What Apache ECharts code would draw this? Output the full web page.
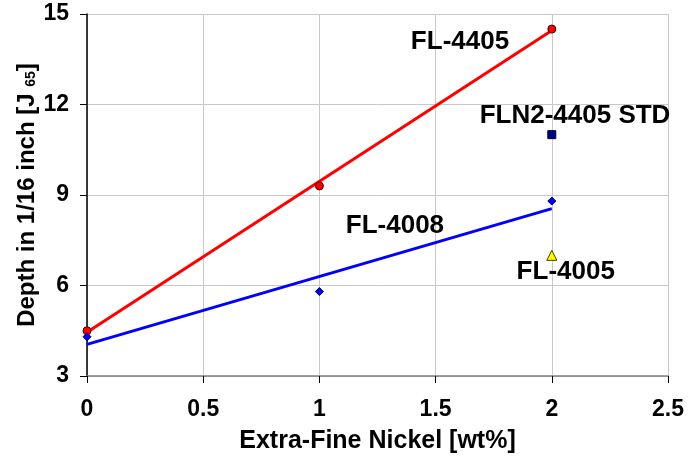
<!DOCTYPE html>
<html>
<head>
<meta charset="utf-8">
<script src="https://cdn.jsdelivr.net/npm/echarts@6/dist/echarts.min.js"></script>
<style>html,body{margin:0;padding:0;background:#fff;}#c{width:688px;height:457px;}</style>
</head>
<body>
<div id="c"></div>
<script>
var xTicks = [0, 0.5, 1, 1.5, 2, 2.5];
var yTicks = [3, 6, 9, 12, 15];
var fl4405 = [[0, 4.5], [1, 9.3], [2, 14.5]];
var fl4008 = [[0, 4.3], [1, 5.8], [2, 8.8]];
var fln2 = [[2, 11.0]];
var fl4005 = [[2, 7.0]];
var trend4405 = [[0, 4.45], [2, 14.45]];
var trend4008 = [[0, 4.05], [2, 8.55]];
var labelTexts = ['FL-4405', 'FLN2-4405 STD', 'FL-4008', 'FL-4005'];
var labelX = [1.605, 2.1, 1.325, 2.06];
var labelY = [14.07, 11.62, 7.97, 6.45];
var F = 'Arial, "Liberation Sans", sans-serif';
var chart = echarts.init(document.getElementById('c'));
chart.setOption({
  animation: false,
  backgroundColor: '#fff',
  grid: {left: 87, right: 20, top: 14, bottom: 81, outerBoundsMode: 'none', containLabel: false},
  xAxis: {
    type: 'value', min: 0, max: 2.5, interval: 0.5,
    name: 'Extra-Fine Nickel [wt%]', nameLocation: 'middle', nameGap: 53, nameMoveOverlap: false,
    nameTextStyle: {fontFamily: F, fontWeight: 'bold', fontSize: 25, color: '#000'},
    axisLine: {show: true, lineStyle: {color: '#808080', width: 1.5}},
    axisTick: {show: true, inside: false, length: 7, lineStyle: {color: '#000'}},
    axisLabel: {margin: 22, fontFamily: F, fontWeight: 'bold', fontSize: 23, color: '#000',
      formatter: function (v) { return xTicks.indexOf(v) >= 0 ? String(v) : ''; }},
    splitLine: {show: true, lineStyle: {color: '#c8c8c8', width: 1}}
  },
  yAxis: {
    type: 'value', min: 3, max: 15, interval: 3,
    name: 'Depth in 1/16 inch [J {sub|65}]', nameLocation: 'middle', nameGap: 48, nameMoveOverlap: false,
    nameTextStyle: {fontFamily: F, fontWeight: 'bold', fontSize: 24, color: '#000',
      rich: {sub: {fontFamily: F, fontWeight: 'bold', fontSize: 14, color: '#000', padding: [8, 0, 0, 0]}}},
    axisLine: {show: true, lineStyle: {color: '#000', width: 1.5}},
    axisTick: {show: true, inside: false, length: 7, lineStyle: {color: '#000'}},
    axisLabel: {margin: 18, fontFamily: F, fontWeight: 'bold', fontSize: 23, color: '#000',
      formatter: function (v) { return yTicks.indexOf(v) >= 0 ? String(v) : ''; }},
    splitLine: {show: true, lineStyle: {color: '#c8c8c8', width: 1}}
  },
  series: [
    {type: 'line', data: trend4405, symbol: 'none', lineStyle: {color: '#ff0000', width: 3}, z: 2},
    {type: 'line', data: trend4008, symbol: 'none', lineStyle: {color: '#0000ff', width: 3}, z: 2},
    {type: 'scatter', data: fl4405, symbol: 'circle', symbolSize: 8,
      itemStyle: {color: '#ff0000', borderColor: '#400000', borderWidth: 1, opacity: 1}, z: 3},
    {type: 'scatter', data: fl4008, symbol: 'diamond', symbolSize: 8,
      itemStyle: {color: '#0000ff', borderColor: '#000040', borderWidth: 1, opacity: 1}, z: 3},
    {type: 'scatter', data: fln2, symbol: 'rect', symbolSize: 8,
      itemStyle: {color: '#000080', borderColor: '#000040', borderWidth: 1, opacity: 1}, z: 3},
    {type: 'scatter', data: fl4005, symbol: 'triangle', symbolSize: 10,
      itemStyle: {color: '#ffff00', borderColor: '#404000', borderWidth: 1, opacity: 1}, z: 3}
  ]
});
var g = labelTexts.map(function (t, i) {
  var p = chart.convertToPixel({gridIndex: 0}, [labelX[i], labelY[i]]);
  return {type: 'text', x: p[0], y: p[1], z: 10,
    style: {text: t, fill: '#000', font: 'bold 26px ' + F, align: 'center', verticalAlign: 'middle'}};
});
chart.setOption({graphic: g});
</script>
</body>
</html>
